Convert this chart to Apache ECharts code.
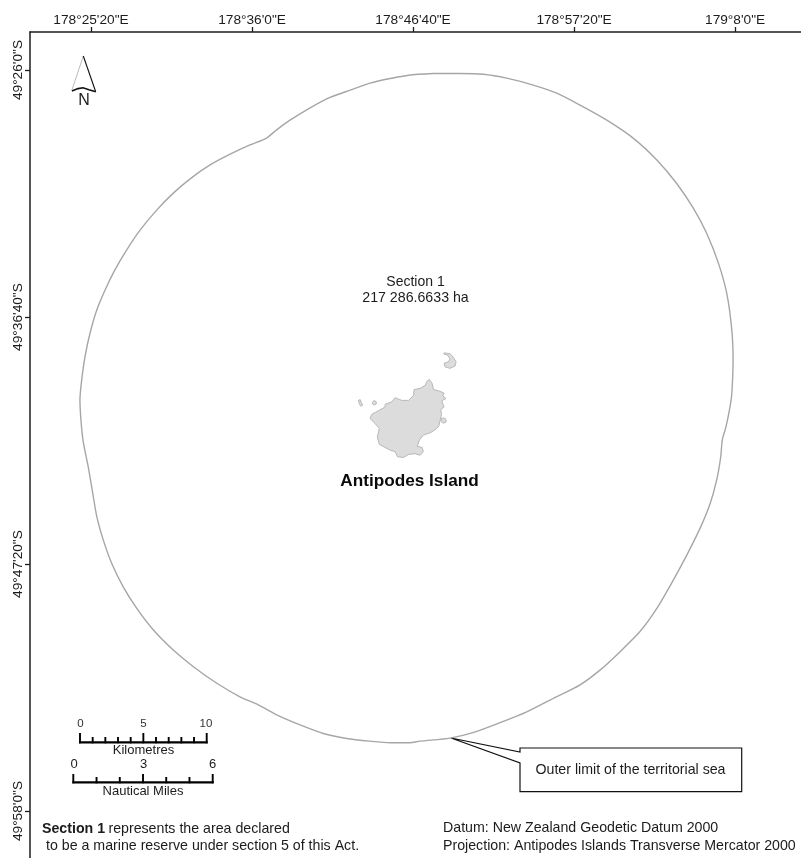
<!DOCTYPE html>
<html>
<head>
<meta charset="utf-8">
<style>html,body{margin:0;padding:0;background:#fff}#c{width:801px;height:858px}</style>
<script src="https://cdn.jsdelivr.net/npm/echarts@6/dist/echarts.min.js"></script>
</head>
<body>
<div id="c"></div>
<script>
// All coordinates: arc-seconds east of 178°E, arc-seconds south of 49°S.
const lonTicks = [1520, 2160, 2800, 3440, 4080];
const latTicks = [1560, 2200, 2840, 3480];
const lonRange = [1277.5, 4342];
const latRange = [1461.5, 3601.7];

const outerLimit = [
[2788,1573],[2709,1582],[2629,1594],[2550,1612],[2470,1631],[2391,1658],[2311,1690],[2258,1715],[2216,1737],
[2152,1754],[2073,1778],[1993,1806],[1914,1842],[1847,1879],[1781,1923],[1715,1975],[1662,2026],[1615,2078],
[1576,2130],[1543,2182],[1516,2242],[1496,2303],[1483,2363],[1476,2415],[1480,2467],[1489,2523],[1509,2588],
[1527,2657],[1543,2717],[1569,2778],[1602,2838],[1648,2899],[1702,2955],[1768,3011],[1847,3063],[1927,3106],
[2020,3149],[2112,3184],[2185,3205],[2258,3231],[2351,3257],[2443,3279],[2536,3292],[2629,3299],[2709,3303],
[2788,3303],[2828,3299],[2947,3291],[3038,3277],[3146,3251],[3252,3223],[3358,3188],[3464,3153],[3543,3115],
[3623,3067],[3702,3015],[3769,2955],[3835,2881],[3888,2817],[3941,2747],[3981,2683],[4007,2622],[4023,2562],
[4029,2519],[4044,2484],[4060,2432],[4067,2398],[4072,2311],[4067,2234],[4047,2139],[4014,2061],[3967,1983],
[3914,1918],[3848,1854],[3769,1793],[3676,1737],[3570,1690],[3464,1651],[3371,1620],[3278,1599],[3172,1581],
[3079,1571],[2987,1569],[2881,1569],[2788,1573]
];

const mainIsland = [
[2865,2362],[2876,2372],[2881,2388],[2901,2391],[2923,2397],[2918,2405],[2931,2411],[2914,2417],[2923,2433],
[2910,2440],[2913,2452],[2908,2467],[2902,2483],[2888,2492],[2868,2500],[2841,2506],[2825,2519],[2817,2535],
[2836,2538],[2841,2549],[2828,2558],[2808,2554],[2782,2556],[2762,2564],[2738,2562],[2729,2549],[2709,2545],
[2689,2538],[2666,2530],[2658,2511],[2666,2489],[2649,2476],[2629,2463],[2636,2452],[2662,2443],[2689,2433],
[2689,2426],[2715,2420],[2729,2409],[2755,2416],[2782,2416],[2802,2403],[2804,2388],[2828,2385],[2848,2377],[2857,2365]
];
const crescentIslet = [
[2923,2293],[2947,2295],[2958,2303],[2971,2316],[2967,2327],[2947,2333],[2927,2329],[2923,2320],[2941,2316],[2947,2308],[2937,2299],[2923,2296]
];
const westIslet = [[2639,2420],[2646,2416],[2654,2420],[2654,2425],[2646,2428],[2639,2425]];
const farWestIslet = [[2583,2416],[2590,2414],[2595,2422],[2600,2428],[2592,2431],[2586,2424]];
const eastIslet = [[2911,2464],[2921,2461],[2931,2465],[2931,2472],[2921,2475],[2913,2472]];
const islands = [mainIsland, crescentIslet, westIslet, farWestIslet, eastIslet];

const dark = '#1c1c1c';
const font = '"Liberation Sans", Arial, sans-serif';

function dms(sec, suffix, deg) {
  const d = deg + Math.floor(sec / 3600);
  const rem = sec - Math.floor(sec / 3600) * 3600;
  const m = Math.floor(rem / 60);
  return d + '°' + m + "'" + (rem - m * 60) + '"' + suffix;
}

// --- map furniture (scale bars, north arrow, callout, notes) ---
function txt(x, y, text, size, extra) {
  return { type: 'text', x: x, y: y, silent: true,
    style: Object.assign({ text: text, fontSize: size, fontFamily: font, fill: dark, align: 'center', verticalAlign: 'middle' }, extra || {}) };
}
function seg(x1, y1, x2, y2, w, c) {
  return { type: 'line', silent: true, shape: { x1, y1, x2, y2 }, style: { stroke: c || '#000', lineWidth: w } };
}
function scaleBar(x0, x1, base, divs, tallEvery, topTall, topMinor) {
  const out = [seg(x0 - 1, base, x1 + 1, base, 2.2)];
  for (let i = 0; i <= divs; i++) {
    const x = x0 + (x1 - x0) * i / divs;
    out.push(seg(x, base + 1, x, i % tallEvery === 0 ? topTall : topMinor, 1.9));
  }
  return out;
}
const furniture = [
  // north arrow
  seg(83.3, 56, 71.7, 90.7, 0.8, '#aaaaaa'),
  seg(83.3, 56, 95.7, 91.7, 1.1, '#111'),
  { type: 'polyline', silent: true, shape: { points: [[72, 91], [78, 88.6], [83, 87.8], [89, 89.8], [95.7, 91.7]] }, style: { stroke: '#111', fill: 'none', lineWidth: 1.6 } },
  txt(84, 100.5, 'N', 16),
  // scale bars
  ...scaleBar(80, 206.7, 742.3, 10, 5, 733, 737),
  ...scaleBar(73.3, 212.7, 782.3, 6, 3, 774, 777),
  txt(80.5, 724, '0', 11.5, { fill: '#333' }), txt(143.5, 724, '5', 11.5, { fill: '#333' }), txt(206, 724, '10', 11.5, { fill: '#333' }),
  txt(143.5, 750, 'Kilometres', 13),
  txt(74, 764, '0', 13), txt(143.5, 764, '3', 13), txt(212.5, 764, '6', 13),
  txt(143, 791, 'Nautical Miles', 13),
  // callout
  { type: 'polyline', silent: true, shape: { points: [[451, 738], [520, 752], [520, 748], [741.7, 748], [741.7, 791.7], [520, 791.7], [520, 763], [451, 738]] }, style: { stroke: '#111', fill: 'none', lineWidth: 1.2 } },
  txt(630.5, 770, 'Outer limit of the territorial sea', 14.2),
  // map text
  txt(415.5, 282, 'Section 1', 14),
  txt(415.5, 298, '217 286.6633 ha', 14.2),
  txt(409.5, 481, 'Antipodes Island', 17.2, { fontWeight: 'bold', fill: '#0a0a0a' }),
  // notes
  { type: 'text', x: 42, y: 829, silent: true, style: {
      text: '{b|Section 1} {n|represents the area declared}', fontFamily: font, fill: dark, verticalAlign: 'middle',
      rich: { b: { fontWeight: 'bold', fontSize: 14.2, fontFamily: font, fill: dark }, n: { fontSize: 14.2, fontFamily: font, fill: dark } } } },
  txt(46, 846, 'to be a marine reserve under section 5 of this Act.', 14.2, { align: 'left' }),
  txt(443, 828, 'Datum: New Zealand Geodetic Datum 2000', 14.2, { align: 'left' }),
  txt(443, 846, 'Projection: Antipodes Islands Transverse Mercator 2000', 14.2, { align: 'left' })
];

const chart = echarts.init(document.getElementById('c'), null, { renderer: 'canvas' });
chart.setOption({
  animation: false,
  backgroundColor: '#ffffff',
  grid: { left: 30, top: 32, right: 0, bottom: 0, containLabel: false },
  xAxis: {
    type: 'value', position: 'top', min: lonRange[0], max: lonRange[1],
    axisLine: { show: true, onZero: false, lineStyle: { color: dark, width: 1.5 } },
    axisTick: { show: true, length: 5, customValues: lonTicks, lineStyle: { color: dark, width: 1.3 } },
    axisLabel: { customValues: lonTicks, margin: 5, fontSize: 13.7, fontFamily: font, color: dark,
      formatter: v => dms(v, 'E', 178) },
    splitLine: { show: false }
  },
  yAxis: {
    type: 'value', inverse: true, position: 'left', min: latRange[0], max: latRange[1],
    axisLine: { show: true, onZero: false, lineStyle: { color: dark, width: 1.5 } },
    axisTick: { show: true, length: 5, customValues: latTicks, lineStyle: { color: dark, width: 1.3 } },
    axisLabel: { customValues: latTicks, rotate: 90, margin: 5, fontSize: 13.7, fontFamily: font, color: dark,
      formatter: v => dms(v, 'S', 49) },
    splitLine: { show: false }
  },
  series: [
    { type: 'custom', name: 'Land', silent: true, data: islands.map((_, i) => [lonRange[0], latRange[0], i]),
      renderItem: function (params, api) {
        const pts = islands[params.dataIndex].map(p => api.coord(p));
        return { type: 'polygon', shape: { points: pts }, style: { fill: '#dcdcdc', stroke: '#b8b8b8', lineWidth: 1 } };
      } },
    { type: 'line', name: 'Outer limit', silent: true, data: outerLimit, showSymbol: false, smooth: 0.25,
      lineStyle: { color: '#a6a6a6', width: 1.4 } }
  ],
  graphic: { elements: furniture }
});
</script>
</body>
</html>
